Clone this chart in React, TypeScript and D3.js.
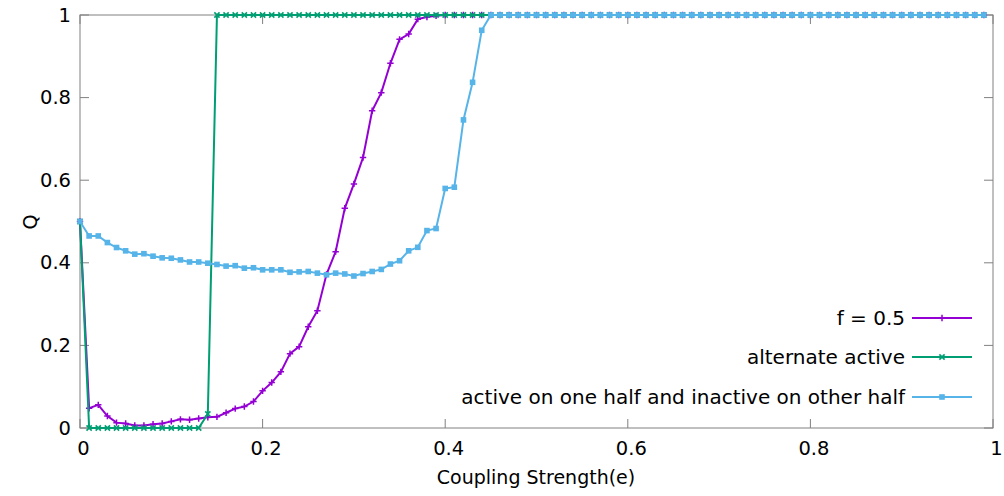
import React from "react";
import * as d3 from "d3";

// x grid: coupling strength 0.00 .. 0.99 in steps of 0.01
const xValues: number[] = d3.range(100).map((i) => i / 100);

const fHalf: number[] = [
  0.5, 0.048, 0.056, 0.029, 0.013, 0.011, 0.006, 0.006, 0.009, 0.011,
  0.016, 0.021, 0.02, 0.023, 0.026, 0.027, 0.037, 0.047, 0.052, 0.064,
  0.09, 0.11, 0.136, 0.18, 0.197, 0.245, 0.284, 0.372, 0.427, 0.532,
  0.591, 0.655, 0.768, 0.812, 0.883, 0.941, 0.954, 0.99, 0.995, 0.998,
  1, 1, 1, 1, 1, 1, 1, 1, 1, 1,
  1, 1, 1, 1, 1, 1, 1, 1, 1, 1,
  1, 1, 1, 1, 1, 1, 1, 1, 1, 1,
  1, 1, 1, 1, 1, 1, 1, 1, 1, 1,
  1, 1, 1, 1, 1, 1, 1, 1, 1, 1,
  1, 1, 1, 1, 1, 1, 1, 1, 1, 1,
];

const alternate: number[] = [
  0.5, 0, 0, 0, 0, 0, 0, 0, 0, 0,
  0, 0, 0, 0, 0.034, 1, 1, 1, 1, 1,
  1, 1, 1, 1, 1, 1, 1, 1, 1, 1,
  1, 1, 1, 1, 1, 1, 1, 1, 1, 1,
  1, 1, 1, 1, 1, 1, 1, 1, 1, 1,
  1, 1, 1, 1, 1, 1, 1, 1, 1, 1,
  1, 1, 1, 1, 1, 1, 1, 1, 1, 1,
  1, 1, 1, 1, 1, 1, 1, 1, 1, 1,
  1, 1, 1, 1, 1, 1, 1, 1, 1, 1,
  1, 1, 1, 1, 1, 1, 1, 1, 1, 1,
];

const halfHalf: number[] = [
  0.5, 0.465, 0.465, 0.449, 0.437, 0.429, 0.421, 0.422, 0.416, 0.412,
  0.411, 0.407, 0.402, 0.402, 0.399, 0.396, 0.392, 0.393, 0.387, 0.388,
  0.383, 0.383, 0.383, 0.377, 0.378, 0.379, 0.375, 0.371, 0.375, 0.373,
  0.368, 0.374, 0.379, 0.384, 0.397, 0.405, 0.429, 0.4375, 0.478, 0.483,
  0.58, 0.583, 0.746, 0.837, 0.963, 1, 1, 1, 1, 1,
  1, 1, 1, 1, 1, 1, 1, 1, 1, 1,
  1, 1, 1, 1, 1, 1, 1, 1, 1, 1,
  1, 1, 1, 1, 1, 1, 1, 1, 1, 1,
  1, 1, 1, 1, 1, 1, 1, 1, 1, 1,
  1, 1, 1, 1, 1, 1, 1, 1, 1, 1,
];

const seriesNames: string[] = [
  "f = 0.5",
  "alternate active",
  "active on one half and inactive on other half",
];
const seriesColors: string[] = ["#9400d3", "#009e73", "#56b4e9"];
const seriesMarkers: string[] = ["plus", "cross", "square"];

const xTicks: number[] = [0, 0.2, 0.4, 0.6, 0.8, 1];
const yTicks: number[] = [0, 0.2, 0.4, 0.6, 0.8, 1];

const W = 1004;
const H = 496;
const L = 80;
const R = 993;
const T = 15;
const B = 428;
const FONT = "'DejaVu Sans', Verdana, sans-serif";
const FRAME = "#808080";
const TICK_FS = 19.5;
const LEGEND_FS = 20;
const TITLE_FS = 19;

function Marker({ kind, x, y, color }: { kind: string; x: number; y: number; color: string }) {
  if (kind === "plus") {
    const s = 3.2;
    return (
      <path
        d={`M${x - s},${y}H${x + s}M${x},${y - s}V${y + s}`}
        stroke={color}
        strokeWidth={1.5}
        fill="none"
      />
    );
  }
  if (kind === "cross") {
    const s = 2.6;
    return (
      <path
        d={`M${x - s},${y - s}L${x + s},${y + s}M${x - s},${y + s}L${x + s},${y - s}`}
        stroke={color}
        strokeWidth={1.6}
        fill="none"
      />
    );
  }
  const s = 2.8;
  return <rect x={x - s} y={y - s} width={2 * s} height={2 * s} fill={color} />;
}

export default function App() {
  const x = d3.scaleLinear().domain([0, 1]).range([L, R]);
  const y = d3.scaleLinear().domain([0, 1]).range([B, T]);
  const line = d3
    .line<[number, number]>()
    .x((d) => x(d[0]))
    .y((d) => y(d[1]));

  const all = [fHalf, alternate, halfHalf];
  const legendY = [318, 357, 397];

  return (
    <svg
      width={W}
      height={H}
      style={{ position: "absolute", left: 0, top: 0, background: "#fff" }}
      fontFamily={FONT}
    >
      <rect x={0} y={0} width={W} height={H} fill="#fff" />
      {/* ticks (mirrored on all sides) */}
      {xTicks.map((t) => (
        <g key={"xt" + t}>
          <line x1={x(t)} x2={x(t)} y1={B} y2={B - 9} stroke={FRAME} strokeWidth={1} />
          <line x1={x(t)} x2={x(t)} y1={T} y2={T + 9} stroke={FRAME} strokeWidth={1} />
          <text
            x={x(t) + 3.5}
            y={448}
            textAnchor="middle"
            dominantBaseline="central"
            fontSize={TICK_FS}
            fill="#000"
          >
            {String(t)}
          </text>
        </g>
      ))}
      {yTicks.map((t) => (
        <g key={"yt" + t}>
          <line x1={L} x2={L + 9} y1={y(t)} y2={y(t)} stroke={FRAME} strokeWidth={1} />
          <line x1={R} x2={R - 9} y1={y(t)} y2={y(t)} stroke={FRAME} strokeWidth={1} />
          <text
            x={71}
            y={y(t)}
            textAnchor="end"
            dominantBaseline="central"
            fontSize={TICK_FS}
            fill="#000"
          >
            {String(t)}
          </text>
        </g>
      ))}
      <rect x={L} y={T} width={R - L} height={B - T} fill="none" stroke={FRAME} strokeWidth={1} />

      {/* series */}
      {all.map((vals, si) => {
        const pts: [number, number][] = vals.map((v, i) => [xValues[i], v]);
        return (
          <g key={"s" + si}>
            <path d={line(pts) || ""} fill="none" stroke={seriesColors[si]} strokeWidth={2} />
            {pts.map((p, i) => (
              <Marker key={i} kind={seriesMarkers[si]} x={x(p[0])} y={y(p[1])} color={seriesColors[si]} />
            ))}
          </g>
        );
      })}

      {/* legend */}
      {seriesNames.map((name, si) => (
        <g key={"lg" + si}>
          <text
            x={905}
            y={legendY[si]}
            textAnchor="end"
            dominantBaseline="central"
            fontSize={LEGEND_FS}
            fill="#000"
          >
            {name}
          </text>
          <line x1={912} x2={972} y1={legendY[si]} y2={legendY[si]} stroke={seriesColors[si]} strokeWidth={2} />
          <Marker kind={seriesMarkers[si]} x={942} y={legendY[si]} color={seriesColors[si]} />
        </g>
      ))}

      {/* axis titles */}
      <text x={536} y={477} textAnchor="middle" dominantBaseline="central" fontSize={TITLE_FS} fill="#000">
        Coupling Strength(e)
      </text>
      <text
        transform={`translate(30,222) rotate(-90)`}
        textAnchor="middle"
        dominantBaseline="central"
        fontSize={TITLE_FS}
        fill="#000"
      >
        Q
      </text>
    </svg>
  );
}
